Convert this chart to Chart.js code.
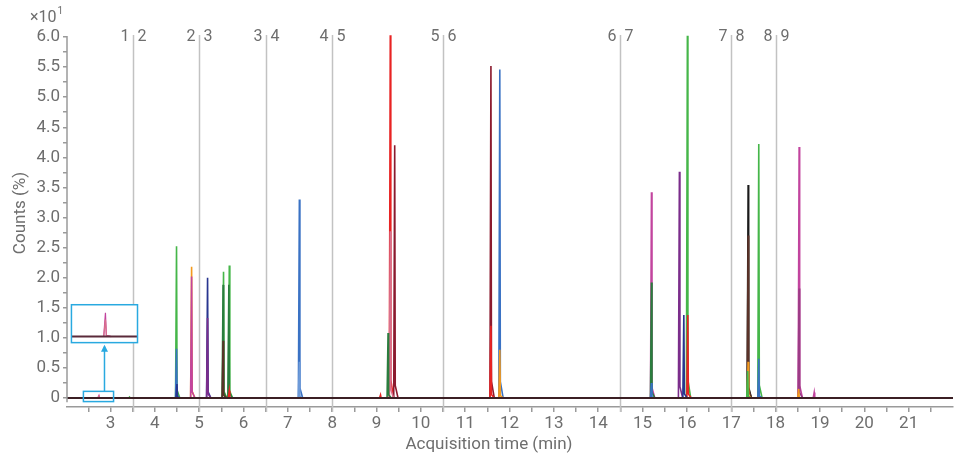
<!DOCTYPE html>
<html>
<head>
<meta charset="utf-8">
<script src="https://cdn.jsdelivr.net/npm/chart.js@4.4.1/dist/chart.umd.min.js"></script>
<style>
  html, body { margin: 0; padding: 0; background: #fff; }
  #wrap { width: 963px; height: 457px; position: relative; }
</style>
</head>
<body>
<div id="wrap"><canvas id="chromChart"></canvas></div>
<script>
// --- DATA ---
const xTickLabels = ['3', '4', '5', '6', '7', '8', '9', '10', '11', '12', '13', '14', '15', '16', '17', '18', '19', '20', '21'];
const yTickLabels = ['0', '0.5', '1.0', '1.5', '2.0', '2.5', '3.0', '3.5', '4.0', '4.5', '5.0', '5.5', '6.0'];

// retention time (min), height (Counts %), trace colour
const peakTimes   = [2.74, 2.74, 3.43, 4.49, 4.49, 4.50, 4.83, 4.83, 5.19, 5.19, 5.55, 5.54, 5.54, 5.68, 5.67, 5.68,
                     7.26, 7.26, 9.09, 9.26, 9.31, 9.31, 9.41, 11.58, 11.58, 11.78, 11.78,
                     15.20, 15.20, 15.20, 15.83, 15.93, 16.01, 16.02, 17.38, 17.38, 17.38, 17.37, 17.62, 17.62,
                     18.53, 18.53, 18.52, 18.87];
const peakHeights = [0.35, 0.25, 0.15, 25.2, 8.2, 2.3, 21.8, 20.2, 20.0, 13.3, 21.0, 18.8, 9.5, 22.0, 18.8, 1.2,
                     33.0, 6.0, 0.5, 10.8, 60.3, 27.7, 42.0, 55.2, 12.0, 54.6, 8.0,
                     34.2, 19.2, 2.5, 37.6, 13.8, 60.2, 13.8, 35.4, 27.0, 6.0, 4.5, 42.2, 6.5,
                     41.7, 18.2, 1.5, 0.9];
const peakSeries  = ['magenta', 'pink', 'green', 'green', 'blue', 'navy', 'orange', 'magenta', 'navy', 'purple', 'green', 'darkgreen', 'brown', 'green', 'darkgreen', 'red',
                     'blue', 'lightblue', 'red', 'darkgreen', 'red', 'pink', 'darkred', 'darkred', 'red', 'blue', 'orange',
                     'magenta', 'darkgreen', 'blue', 'purple', 'navy', 'green', 'red', 'black', 'brown', 'orange', 'green', 'green', 'blue',
                     'magenta', 'plum', 'orange', 'magenta'];

const baselineTimes = [2.02, 22];
const segmentTimes = [3.5, 5.0, 6.5, 8.0, 10.5, 14.5, 17.0, 18.0];

// --- STYLE ---
const palette = {
    green: '#45b649', darkgreen: '#2a7d3e', blue: '#3a72c4', lightblue: '#6d9ad8', navy: '#28358f',
    orange: '#f39a1e', magenta: '#c2449e', plum: '#9c3b86', pink: '#d9708c', purple: '#7b2d8b',
    red: '#e82323', darkred: '#8b1a2e', brown: '#5a3228', black: '#1a1a1a'
};
const textColor = '#6e6e6e';
const axisColor = '#9a9a9a';
const fontFamily = 'Roboto, "Noto Sans", sans-serif';
const peakShape = [[-0.022, 0], [0, 1], [0.012, 0.05], [0.075, 0]]; // relative offsets for the spike outline

const insetSource = { x0: 2.39, x1: 3.07, y0: -0.6, y1: 1.1 };
const insetBox = { x0: 2.12, x1: 3.61, y0: 9.2, y1: 15.5 };
const insetRangeY = [-0.09, 0.47];

// --- DATASETS ---
const datasets = [];
peakTimes.forEach((t, i) => {
    const h = peakHeights[i];
    datasets.push({
        data: peakShape.map(p => ({ x: t + p[0], y: h * p[1] })),
        borderColor: palette[peakSeries[i]],
        borderWidth: 1.6,
        order: h
    });
});
datasets.push({
    data: baselineTimes.map(t => ({ x: t, y: 0 })),
    borderColor: '#3b1f24',
    borderWidth: 2,
    order: -1
});

// --- PLUGIN: segment lines, axis decorations, inset ---
const decorPlugin = {
    id: 'decor',
    beforeDatasetsDraw(chart) {
        const ctx = chart.ctx;
        const xs = chart.scales.x;
        ctx.save();
        ctx.strokeStyle = '#c2c2c2';
        ctx.lineWidth = 1.5;
        ctx.font = '16px ' + fontFamily;
        ctx.fillStyle = textColor;
        ctx.textBaseline = 'middle';
        segmentTimes.forEach((t, i) => {
            const px = Math.round(xs.getPixelForValue(t)) + 0.5;
            ctx.beginPath();
            ctx.moveTo(px, 35);
            ctx.lineTo(px, chart.chartArea.bottom + 5);
            ctx.stroke();
            ctx.textAlign = 'right';
            ctx.fillText(String(i + 1), px - 4, 37);
            ctx.textAlign = 'left';
            ctx.fillText(String(i + 2), px + 4, 37);
        });
        ctx.restore();
    },
    afterDatasetsDraw(chart) {
        const ctx = chart.ctx;
        const xs = chart.scales.x, ys = chart.scales.y;
        ctx.save();

        // y axis line
        ctx.strokeStyle = axisColor;
        ctx.lineWidth = 1.5;
        const ax = chart.chartArea.left;
        ctx.beginPath();
        ctx.moveTo(ax, ys.getPixelForValue(60) - 1);
        ctx.lineTo(ax, ys.getPixelForValue(-0.7));
        ctx.stroke();

        // inset
        const sx0 = xs.getPixelForValue(insetSource.x0), sx1 = xs.getPixelForValue(insetSource.x1);
        const sy0 = ys.getPixelForValue(insetSource.y0), sy1 = ys.getPixelForValue(insetSource.y1);
        const bx0 = xs.getPixelForValue(insetBox.x0), bx1 = xs.getPixelForValue(insetBox.x1);
        const by0 = ys.getPixelForValue(insetBox.y0), by1 = ys.getPixelForValue(insetBox.y1);
        const mapX = v => bx0 + (v - insetSource.x0) / (insetSource.x1 - insetSource.x0) * (bx1 - bx0);
        const mapY = v => by0 - (v - insetRangeY[0]) / (insetRangeY[1] - insetRangeY[0]) * (by0 - by1);

        ctx.fillStyle = '#fff';
        ctx.fillRect(bx0, by1, bx1 - bx0, by0 - by1);
        ctx.save();
        ctx.beginPath();
        ctx.rect(bx0, by1, bx1 - bx0, by0 - by1);
        ctx.clip();
        ctx.lineWidth = 1.2;
        peakTimes.forEach((t, i) => {
            if (t < insetSource.x0 || t > insetSource.x1) return;
            const h = peakHeights[i];
            ctx.strokeStyle = palette[peakSeries[i]];
            ctx.beginPath();
            peakShape.forEach((p, k) => {
                const X = mapX(t + p[0] * 0.8), Y = mapY(h * p[1]);
                if (k === 0) ctx.moveTo(X, Y); else ctx.lineTo(X, Y);
            });
            ctx.stroke();
        });
        ctx.strokeStyle = '#5a2a3a';
        ctx.lineWidth = 2;
        ctx.beginPath();
        ctx.moveTo(bx0, mapY(0));
        ctx.lineTo(bx1, mapY(0));
        ctx.stroke();
        ctx.restore();

        ctx.strokeStyle = '#29a9e0';
        ctx.lineWidth = 1.5;
        ctx.strokeRect(bx0, by1, bx1 - bx0, by0 - by1);
        ctx.strokeRect(sx0, sy1, sx1 - sx0, sy0 - sy1);
        // arrow from the small box up to the inset
        const axp = (sx0 + sx1) / 2 + 6;
        ctx.beginPath();
        ctx.moveTo(axp, sy1);
        ctx.lineTo(axp, by0 + 4);
        ctx.stroke();
        ctx.fillStyle = '#29a9e0';
        ctx.beginPath();
        ctx.moveTo(axp, by0 + 2);
        ctx.lineTo(axp - 3.5, by0 + 9);
        ctx.lineTo(axp + 3.5, by0 + 9);
        ctx.closePath();
        ctx.fill();

        // axis titles and multiplier
        ctx.fillStyle = textColor;
        ctx.font = '17px ' + fontFamily;
        ctx.textAlign = 'center';
        ctx.textBaseline = 'middle';
        ctx.fillText('Acquisition time (min)', 489, 445);
        ctx.save();
        ctx.translate(21, 213);
        ctx.rotate(-Math.PI / 2);
        ctx.fillText('Counts (%)', 0, 0);
        ctx.restore();
        ctx.textAlign = 'left';
        ctx.textBaseline = 'alphabetic';
        ctx.font = '16px ' + fontFamily;
        ctx.fillText('\u00d710', 30, 22);
        const w = ctx.measureText('\u00d710').width;
        ctx.font = '10px ' + fontFamily;
        ctx.fillText('1', 30 + w + 1, 14);
        ctx.restore();
    }
};

// --- CHART ---
const ctx = document.getElementById('chromChart').getContext('2d');
new Chart(ctx, {
    type: 'line',
    data: { datasets: datasets },
    options: {
        responsive: true,
        maintainAspectRatio: false,
        animation: false,
        events: [],
        layout: { padding: { top: 31, right: 10, left: 0, bottom: 0 } },
        elements: { point: { radius: 0 }, line: { tension: 0 } },
        plugins: { legend: { display: false }, tooltip: { enabled: false } },
        scales: {
            x: {
                type: 'linear',
                min: 2.02,
                max: 22,
                afterBuildTicks: scale => {
                    const ticks = [];
                    xTickLabels.forEach(l => {
                        const v = Number(l);
                        ticks.push({ value: v - 0.5 }, { value: v });
                    });
                    ticks.push({ value: Number(xTickLabels[xTickLabels.length - 1]) + 0.5 });
                    scale.ticks = ticks;
                },
                afterFit: scale => { scale.height = 50; },
                ticks: {
                    autoSkip: false,
                    maxRotation: 0,
                    padding: 2,
                    color: textColor,
                    font: { family: fontFamily, size: 17 },
                    callback: v => (Number.isInteger(v) ? String(v) : '')
                },
                grid: { drawOnChartArea: false, drawTicks: true, tickLength: 5, color: axisColor, lineWidth: 1.5 },
                border: { display: true, color: axisColor, width: 1.5 }
            },
            y: {
                type: 'linear',
                min: -1.5,
                max: 61,
                afterBuildTicks: scale => {
                    const ticks = [];
                    yTickLabels.forEach((l, i) => {
                        ticks.push({ value: i * 5 });
                        if (i < yTickLabels.length - 1) ticks.push({ value: i * 5 + 2.5 });
                    });
                    scale.ticks = ticks;
                },
                afterFit: scale => { scale.width = 67; },
                ticks: {
                    autoSkip: false,
                    padding: 3,
                    color: textColor,
                    font: { family: fontFamily, size: 17 },
                    callback: v => (v % 5 === 0 ? yTickLabels[v / 5] : '')
                },
                grid: { drawOnChartArea: false, drawTicks: true, tickLength: 4, color: axisColor, lineWidth: 1.5 },
                border: { display: false }
            }
        }
    },
    plugins: [decorPlugin]
});
</script>
</body>
</html>
